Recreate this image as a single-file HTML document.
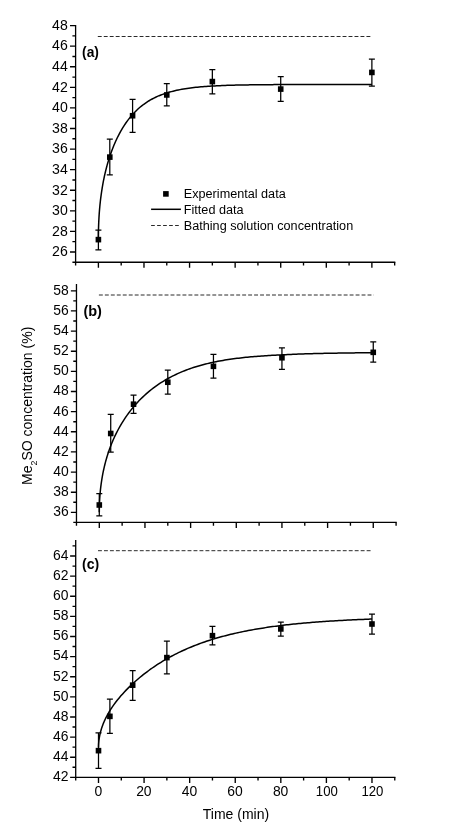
<!DOCTYPE html>
<html lang="en"><head><meta charset="utf-8"><title>Me2SO concentration vs time</title>
<style>html,body{margin:0;padding:0;background:#fff}body{width:453px;height:834px;overflow:hidden}svg{display:block;will-change:transform;opacity:0.999}</style>
</head><body>
<svg width="453" height="834" viewBox="0 0 453 834" font-family='"Liberation Sans", Arial, Helvetica, sans-serif' fill="#000">
<rect width="453" height="834" fill="#fff"/>
<g id="panel-a">
<path d="M75.61 25.60V262.27H394.67" fill="none" stroke="#000" stroke-width="1.3" stroke-linecap="square"/>
<path d="M75.61 251.98h-5.6M75.61 231.40h-5.6M75.61 210.82h-5.6M75.61 190.24h-5.6M75.61 169.66h-5.6M75.61 149.08h-5.6M75.61 128.50h-5.6M75.61 107.92h-5.6M75.61 87.34h-5.6M75.61 66.76h-5.6M75.61 46.18h-5.6M75.61 25.60h-5.6M75.61 262.27h-3.2M75.61 241.69h-3.2M75.61 221.11h-3.2M75.61 200.53h-3.2M75.61 179.95h-3.2M75.61 159.37h-3.2M75.61 138.79h-3.2M75.61 118.21h-3.2M75.61 97.63h-3.2M75.61 77.05h-3.2M75.61 56.47h-3.2M75.61 35.89h-3.2M98.40 262.27v5.6M143.98 262.27v5.6M189.56 262.27v5.6M235.14 262.27v5.6M280.72 262.27v5.6M326.30 262.27v5.6M371.88 262.27v5.6M75.61 262.27v3.3M121.19 262.27v3.3M166.77 262.27v3.3M212.35 262.27v3.3M257.93 262.27v3.3M303.51 262.27v3.3M349.09 262.27v3.3M394.67 262.27v3.3" fill="none" stroke="#000" stroke-width="1.35"/>
<g font-size="14.1" text-anchor="end">
<text x="67.75" y="256.28">26</text>
<text x="67.75" y="235.70">28</text>
<text x="67.75" y="215.12">30</text>
<text x="67.75" y="194.54">32</text>
<text x="67.75" y="173.96">34</text>
<text x="67.75" y="153.38">36</text>
<text x="67.75" y="132.80">38</text>
<text x="67.75" y="112.22">40</text>
<text x="67.75" y="91.64">42</text>
<text x="67.75" y="71.06">44</text>
<text x="67.75" y="50.48">46</text>
<text x="67.75" y="29.90">48</text>
</g>
<line x1="97.8" x2="372.38" y1="36.5" y2="36.5" stroke="#2a2a2a" stroke-width="1" stroke-dasharray="3.9 2.07"/>
<text x="82.1" y="57.0" font-size="13.8" font-weight="bold">(a)</text>
<path d="M98.40 237.93 L98.40 236.35 L98.42 234.63 L98.44 232.91 L98.46 231.20 L98.50 229.50 L98.54 227.80 L98.59 226.11 L98.65 224.43 L98.72 222.76 L98.79 221.10 L98.88 219.44 L98.97 217.79 L99.06 216.15 L99.17 214.52 L99.28 212.90 L99.41 211.28 L99.54 209.68 L99.67 208.08 L99.82 206.49 L99.97 204.90 L100.13 203.33 L100.30 201.76 L100.48 200.20 L100.66 198.65 L100.86 197.11 L101.06 195.58 L101.26 194.05 L101.48 192.54 L101.70 191.03 L101.94 189.53 L102.17 188.04 L102.42 186.56 L102.68 185.09 L102.94 183.62 L103.21 182.16 L103.49 180.72 L103.78 179.28 L104.07 177.85 L104.37 176.43 L104.69 175.02 L105.00 173.61 L105.33 172.22 L105.66 170.83 L106.00 169.46 L106.35 168.09 L106.71 166.73 L107.08 165.38 L107.45 164.04 L107.83 162.72 L108.22 161.39 L108.62 160.08 L109.02 158.78 L109.43 157.49 L109.85 156.21 L110.28 154.94 L110.72 153.67 L111.16 152.42 L111.61 151.18 L112.07 149.94 L113.82 145.53 L115.56 141.49 L117.30 137.76 L119.05 134.32 L120.79 131.12 L122.54 128.15 L124.28 125.38 L126.02 122.79 L127.77 120.38 L129.51 118.12 L131.25 116.00 L133.00 114.02 L134.74 112.17 L136.49 110.44 L138.23 108.81 L139.97 107.29 L141.72 105.86 L143.46 104.52 L145.20 103.27 L146.95 102.09 L148.69 100.99 L150.43 99.96 L152.18 98.99 L153.92 98.08 L155.67 97.23 L157.41 96.43 L159.15 95.68 L160.90 94.98 L162.64 94.33 L164.38 93.71 L166.13 93.13 L167.87 92.59 L169.61 92.08 L171.36 91.60 L173.10 91.16 L174.85 90.74 L176.59 90.35 L178.33 89.98 L180.08 89.63 L181.82 89.31 L183.56 89.01 L185.31 88.72 L187.05 88.46 L188.80 88.21 L190.54 87.97 L192.28 87.75 L194.03 87.55 L195.77 87.35 L197.51 87.17 L199.26 87.00 L201.00 86.85 L202.74 86.70 L204.49 86.56 L206.23 86.43 L207.98 86.30 L209.72 86.19 L211.46 86.08 L213.21 85.98 L214.95 85.88 L216.69 85.79 L218.44 85.71 L220.18 85.63 L221.92 85.56 L223.67 85.49 L225.41 85.43 L227.16 85.37 L228.90 85.31 L230.64 85.26 L232.39 85.21 L234.13 85.16 L235.87 85.12 L237.62 85.07 L239.36 85.04 L241.11 85.00 L242.85 84.97 L244.59 84.93 L246.34 84.90 L248.08 84.88 L249.82 84.85 L251.57 84.83 L253.31 84.80 L255.05 84.78 L256.80 84.76 L258.54 84.74 L260.29 84.72 L262.03 84.71 L263.77 84.69 L265.52 84.68 L267.26 84.66 L269.00 84.65 L270.75 84.64 L272.49 84.63 L274.23 84.62 L275.98 84.61 L277.72 84.60 L279.47 84.59 L281.21 84.58 L282.95 84.57 L284.70 84.57 L286.44 84.56 L288.18 84.55 L289.93 84.55 L291.67 84.54 L293.42 84.54 L295.16 84.53 L296.90 84.53 L298.65 84.52 L300.39 84.52 L302.13 84.52 L303.88 84.51 L305.62 84.51 L307.36 84.51 L309.11 84.50 L310.85 84.50 L312.60 84.50 L314.34 84.49 L316.08 84.49 L317.83 84.49 L319.57 84.49 L321.31 84.49 L323.06 84.48 L324.80 84.48 L326.54 84.48 L328.29 84.48 L330.03 84.48 L331.78 84.48 L333.52 84.48 L335.26 84.48 L337.01 84.47 L338.75 84.47 L340.49 84.47 L342.24 84.47 L343.98 84.47 L345.73 84.47 L347.47 84.47 L349.21 84.47 L350.96 84.47 L352.70 84.47 L354.44 84.47 L356.19 84.47 L357.93 84.47 L359.67 84.47 L361.42 84.47 L363.16 84.46 L364.91 84.46 L366.65 84.46 L368.39 84.46 L370.14 84.46 L371.88 84.46" fill="none" stroke="#000" stroke-width="1.5" stroke-linejoin="round"/>
<path d="M98.40 230.17V249.92M95.40 230.17h6.0M95.40 249.92h6.0M109.80 139.10V174.80M106.80 139.10h6.0M106.80 174.80h6.0M132.59 99.48V132.31M129.59 99.48h6.0M129.59 132.31h6.0M166.77 83.64V105.86M163.77 83.64h6.0M163.77 105.86h6.0M212.35 69.54V93.82M209.35 69.54h6.0M209.35 93.82h6.0M280.72 76.74V101.44M277.72 76.74h6.0M277.72 101.44h6.0M371.88 59.15V86.00M368.88 59.15h6.0M368.88 86.00h6.0" fill="none" stroke="#000" stroke-width="1.25"/>
<rect x="95.60" y="236.83" width="5.6" height="5.6"/>
<rect x="107.00" y="154.31" width="5.6" height="5.6"/>
<rect x="129.78" y="112.94" width="5.6" height="5.6"/>
<rect x="163.97" y="92.15" width="5.6" height="5.6"/>
<rect x="209.55" y="78.78" width="5.6" height="5.6"/>
<rect x="277.92" y="86.29" width="5.6" height="5.6"/>
<rect x="369.08" y="69.62" width="5.6" height="5.6"/>
</g>
<g id="panel-b">
<path d="M76.47 284.76V522.41H396.09" fill="none" stroke="#000" stroke-width="1.3" stroke-linecap="square"/>
<path d="M76.47 512.34h-5.6M76.47 492.20h-5.6M76.47 472.06h-5.6M76.47 451.92h-5.6M76.47 431.78h-5.6M76.47 411.64h-5.6M76.47 391.50h-5.6M76.47 371.36h-5.6M76.47 351.22h-5.6M76.47 331.08h-5.6M76.47 310.94h-5.6M76.47 290.80h-5.6M76.47 522.41h-3.2M76.47 502.27h-3.2M76.47 482.13h-3.2M76.47 461.99h-3.2M76.47 441.85h-3.2M76.47 421.71h-3.2M76.47 401.57h-3.2M76.47 381.43h-3.2M76.47 361.29h-3.2M76.47 341.15h-3.2M76.47 321.01h-3.2M76.47 300.87h-3.2M99.30 522.41v5.6M144.96 522.41v5.6M190.62 522.41v5.6M236.28 522.41v5.6M281.94 522.41v5.6M327.60 522.41v5.6M373.26 522.41v5.6M76.47 522.41v3.3M122.13 522.41v3.3M167.79 522.41v3.3M213.45 522.41v3.3M259.11 522.41v3.3M304.77 522.41v3.3M350.43 522.41v3.3M396.09 522.41v3.3" fill="none" stroke="#000" stroke-width="1.35"/>
<g font-size="13.9" text-anchor="end">
<text x="68.80" y="516.22">36</text>
<text x="68.80" y="496.08">38</text>
<text x="68.80" y="475.94">40</text>
<text x="68.80" y="455.80">42</text>
<text x="68.80" y="435.66">44</text>
<text x="68.80" y="415.52">46</text>
<text x="68.80" y="395.38">48</text>
<text x="68.80" y="375.24">50</text>
<text x="68.80" y="355.10">52</text>
<text x="68.80" y="334.96">54</text>
<text x="68.80" y="314.82">56</text>
<text x="68.80" y="294.68">58</text>
</g>
<line x1="98.9" x2="373.76" y1="295.0" y2="295.0" stroke="#2a2a2a" stroke-width="1" stroke-dasharray="3.9 2.07"/>
<text x="83.4" y="316.1" font-size="14.5" font-weight="bold">(b)</text>
<path d="M99.30 512.28 L99.30 511.08 L99.32 509.72 L99.34 508.37 L99.36 507.03 L99.40 505.68 L99.44 504.35 L99.49 503.01 L99.55 501.69 L99.62 500.36 L99.69 499.04 L99.78 497.73 L99.87 496.42 L99.97 495.11 L100.07 493.81 L100.19 492.52 L100.31 491.23 L100.44 489.94 L100.57 488.66 L100.72 487.38 L100.87 486.11 L101.04 484.84 L101.20 483.58 L101.38 482.32 L101.57 481.07 L101.76 479.82 L101.96 478.57 L102.17 477.34 L102.39 476.10 L102.61 474.87 L102.84 473.65 L103.08 472.43 L103.33 471.22 L103.59 470.01 L103.85 468.80 L104.12 467.60 L104.40 466.41 L104.69 465.22 L104.98 464.03 L105.29 462.85 L105.60 461.68 L105.91 460.51 L106.24 459.34 L106.58 458.19 L106.92 457.03 L107.27 455.88 L107.63 454.74 L107.99 453.60 L108.37 452.46 L108.75 451.34 L109.14 450.21 L109.54 449.09 L109.94 447.98 L110.35 446.87 L110.77 445.77 L111.20 444.67 L111.64 443.58 L112.09 442.49 L112.54 441.41 L113.00 440.33 L114.74 436.45 L116.49 432.85 L118.24 429.49 L119.98 426.34 L121.73 423.37 L123.48 420.56 L125.23 417.90 L126.97 415.37 L128.72 412.97 L130.47 410.67 L132.21 408.48 L133.96 406.38 L135.71 404.37 L137.45 402.44 L139.20 400.59 L140.95 398.82 L142.69 397.11 L144.44 395.47 L146.19 393.90 L147.93 392.38 L149.68 390.92 L151.43 389.52 L153.17 388.16 L154.92 386.86 L156.67 385.61 L158.41 384.40 L160.16 383.23 L161.91 382.11 L163.65 381.03 L165.40 379.98 L167.15 378.98 L168.89 378.01 L170.64 377.07 L172.39 376.17 L174.13 375.30 L175.88 374.47 L177.63 373.66 L179.37 372.88 L181.12 372.13 L182.87 371.41 L184.61 370.71 L186.36 370.04 L188.11 369.39 L189.85 368.76 L191.60 368.16 L193.35 367.57 L195.09 367.01 L196.84 366.47 L198.59 365.95 L200.33 365.45 L202.08 364.96 L203.83 364.49 L205.57 364.04 L207.32 363.61 L209.07 363.19 L210.81 362.78 L212.56 362.39 L214.31 362.02 L216.05 361.67 L217.80 361.33 L219.55 361.01 L221.29 360.70 L223.04 360.39 L224.79 360.10 L226.54 359.83 L228.28 359.56 L230.03 359.30 L231.78 359.05 L233.52 358.81 L235.27 358.58 L237.02 358.36 L238.76 358.14 L240.51 357.94 L242.26 357.74 L244.00 357.55 L245.75 357.37 L247.50 357.19 L249.24 357.02 L250.99 356.86 L252.74 356.70 L254.48 356.55 L256.23 356.40 L257.98 356.27 L259.72 356.13 L261.47 356.00 L263.22 355.88 L264.96 355.76 L266.71 355.65 L268.46 355.54 L270.20 355.43 L271.95 355.33 L273.70 355.23 L275.44 355.14 L277.19 355.05 L278.94 354.97 L280.68 354.89 L282.43 354.80 L284.18 354.71 L285.92 354.63 L287.67 354.55 L289.42 354.47 L291.16 354.39 L292.91 354.32 L294.66 354.25 L296.40 354.18 L298.15 354.11 L299.90 354.05 L301.64 353.99 L303.39 353.93 L305.14 353.87 L306.88 353.82 L308.63 353.76 L310.38 353.71 L312.12 353.66 L313.87 353.62 L315.62 353.57 L317.36 353.53 L319.11 353.48 L320.86 353.44 L322.60 353.40 L324.35 353.36 L326.10 353.33 L327.85 353.29 L329.59 353.26 L331.34 353.22 L333.09 353.19 L334.83 353.16 L336.58 353.13 L338.33 353.10 L340.07 353.08 L341.82 353.05 L343.57 353.02 L345.31 353.00 L347.06 352.97 L348.81 352.95 L350.55 352.93 L352.30 352.91 L354.05 352.89 L355.79 352.87 L357.54 352.85 L359.29 352.83 L361.03 352.81 L362.78 352.79 L364.53 352.78 L366.27 352.76 L368.02 352.75 L369.77 352.73 L371.51 352.72 L373.26 352.70" fill="none" stroke="#000" stroke-width="1.5" stroke-linejoin="round"/>
<path d="M99.30 493.71V515.86M96.30 493.71h6.0M96.30 515.86h6.0M110.72 414.26V452.22M107.72 414.26h6.0M107.72 452.22h6.0M133.55 395.13V413.35M130.55 395.13h6.0M130.55 413.35h6.0M167.79 370.15V394.22M164.79 370.15h6.0M164.79 394.22h6.0M213.45 354.44V378.01M210.45 354.44h6.0M210.45 378.01h6.0M281.94 347.90V369.35M278.94 347.90h6.0M278.94 369.35h6.0M373.26 341.85V362.20M370.26 341.85h6.0M370.26 362.20h6.0" fill="none" stroke="#000" stroke-width="1.25"/>
<rect x="96.50" y="502.19" width="5.6" height="5.6"/>
<rect x="107.92" y="430.69" width="5.6" height="5.6"/>
<rect x="130.75" y="401.39" width="5.6" height="5.6"/>
<rect x="164.99" y="379.44" width="5.6" height="5.6"/>
<rect x="210.65" y="363.52" width="5.6" height="5.6"/>
<rect x="279.14" y="354.97" width="5.6" height="5.6"/>
<rect x="370.46" y="349.53" width="5.6" height="5.6"/>
</g>
<g id="panel-c">
<path d="M75.71 540.61V777.32H394.77" fill="none" stroke="#000" stroke-width="1.3" stroke-linecap="square"/>
<path d="M75.71 777.32h-5.6M75.71 757.20h-5.6M75.71 737.08h-5.6M75.71 716.96h-5.6M75.71 696.84h-5.6M75.71 676.72h-5.6M75.71 656.60h-5.6M75.71 636.48h-5.6M75.71 616.36h-5.6M75.71 596.24h-5.6M75.71 576.12h-5.6M75.71 556.00h-5.6M75.71 767.26h-3.2M75.71 747.14h-3.2M75.71 727.02h-3.2M75.71 706.90h-3.2M75.71 686.78h-3.2M75.71 666.66h-3.2M75.71 646.54h-3.2M75.71 626.42h-3.2M75.71 606.30h-3.2M75.71 586.18h-3.2M75.71 566.06h-3.2M75.71 545.94h-3.2M98.50 777.32v5.6M144.08 777.32v5.6M189.66 777.32v5.6M235.24 777.32v5.6M280.82 777.32v5.6M326.40 777.32v5.6M371.98 777.32v5.6M75.71 777.32v3.3M121.29 777.32v3.3M166.87 777.32v3.3M212.45 777.32v3.3M258.03 777.32v3.3M303.61 777.32v3.3M349.19 777.32v3.3M394.77 777.32v3.3" fill="none" stroke="#000" stroke-width="1.35"/>
<g font-size="13.9" text-anchor="end">
<text x="68.45" y="781.20">42</text>
<text x="68.45" y="761.08">44</text>
<text x="68.45" y="740.96">46</text>
<text x="68.45" y="720.84">48</text>
<text x="68.45" y="700.72">50</text>
<text x="68.45" y="680.60">52</text>
<text x="68.45" y="660.48">54</text>
<text x="68.45" y="640.36">56</text>
<text x="68.45" y="620.24">58</text>
<text x="68.45" y="600.12">60</text>
<text x="68.45" y="580.00">62</text>
<text x="68.45" y="559.88">64</text>
</g>
<line x1="98.0" x2="372.48" y1="550.7" y2="550.7" stroke="#2a2a2a" stroke-width="1" stroke-dasharray="3.9 2.07"/>
<text x="82.1" y="569.45" font-size="14.0" font-weight="bold">(c)</text>
<path d="M98.50 747.48 L98.50 746.86 L98.52 746.17 L98.54 745.49 L98.56 744.80 L98.60 744.12 L98.64 743.43 L98.69 742.75 L98.75 742.07 L98.82 741.38 L98.89 740.70 L98.98 740.01 L99.07 739.33 L99.16 738.64 L99.27 737.96 L99.38 737.27 L99.51 736.59 L99.64 735.90 L99.77 735.22 L99.92 734.53 L100.07 733.85 L100.23 733.17 L100.40 732.48 L100.58 731.80 L100.76 731.11 L100.96 730.43 L101.16 729.74 L101.36 729.06 L101.58 728.37 L101.80 727.69 L102.04 727.00 L102.27 726.32 L102.52 725.64 L102.78 724.95 L103.04 724.27 L103.31 723.58 L103.59 722.90 L103.88 722.21 L104.17 721.53 L104.47 720.84 L104.79 720.16 L105.10 719.47 L105.43 718.79 L105.76 718.10 L106.10 717.42 L106.45 716.74 L106.81 716.05 L107.18 715.37 L107.55 714.68 L107.93 714.00 L108.32 713.31 L108.72 712.63 L109.12 711.94 L109.53 711.26 L109.95 710.57 L110.38 709.89 L110.82 709.20 L111.26 708.52 L111.71 707.84 L112.17 707.15 L113.92 704.65 L115.66 702.29 L117.40 700.05 L119.15 697.91 L120.89 695.86 L122.64 693.88 L124.38 691.98 L126.12 690.14 L127.87 688.36 L129.61 686.64 L131.35 684.97 L133.10 683.34 L134.84 681.76 L136.59 680.22 L138.33 678.72 L140.07 677.26 L141.82 675.84 L143.56 674.45 L145.30 673.10 L147.05 671.78 L148.79 670.49 L150.53 669.23 L152.28 668.00 L154.02 666.80 L155.77 665.63 L157.51 664.49 L159.25 663.37 L161.00 662.28 L162.74 661.22 L164.48 660.18 L166.23 659.17 L167.97 658.17 L169.71 657.21 L171.46 656.26 L173.20 655.33 L174.95 654.43 L176.69 653.55 L178.43 652.69 L180.18 651.85 L181.92 651.03 L183.66 650.22 L185.41 649.44 L187.15 648.67 L188.90 647.92 L190.64 647.19 L192.38 646.48 L194.13 645.78 L195.87 645.10 L197.61 644.44 L199.36 643.79 L201.10 643.15 L202.84 642.53 L204.59 641.92 L206.33 641.33 L208.08 640.75 L209.82 640.19 L211.56 639.64 L213.31 639.10 L215.05 638.57 L216.79 638.06 L218.54 637.55 L220.28 637.06 L222.02 636.58 L223.77 636.12 L225.51 635.66 L227.26 635.21 L229.00 634.78 L230.74 634.35 L232.49 633.93 L234.23 633.53 L235.97 633.13 L237.72 632.74 L239.46 632.36 L241.21 631.99 L242.95 631.63 L244.69 631.27 L246.44 630.93 L248.18 630.59 L249.92 630.26 L251.67 629.94 L253.41 629.63 L255.15 629.32 L256.90 629.02 L258.64 628.73 L260.39 628.44 L262.13 628.16 L263.87 627.89 L265.62 627.62 L267.36 627.36 L269.10 627.10 L270.85 626.86 L272.59 626.61 L274.33 626.37 L276.08 626.14 L277.82 625.92 L279.57 625.70 L281.31 625.48 L283.05 625.27 L284.80 625.06 L286.54 624.86 L288.28 624.66 L290.03 624.47 L291.77 624.28 L293.52 624.10 L295.26 623.92 L297.00 623.75 L298.75 623.57 L300.49 623.41 L302.23 623.24 L303.98 623.08 L305.72 622.93 L307.46 622.78 L309.21 622.63 L310.95 622.48 L312.70 622.34 L314.44 622.20 L316.18 622.07 L317.93 621.94 L319.67 621.81 L321.41 621.68 L323.16 621.56 L324.90 621.44 L326.64 621.32 L328.39 621.20 L330.13 621.09 L331.88 620.98 L333.62 620.88 L335.36 620.77 L337.11 620.67 L338.85 620.57 L340.59 620.47 L342.34 620.38 L344.08 620.28 L345.83 620.19 L347.57 620.10 L349.31 620.02 L351.06 619.93 L352.80 619.85 L354.54 619.77 L356.29 619.69 L358.03 619.61 L359.77 619.54 L361.52 619.46 L363.26 619.39 L365.01 619.32 L366.75 619.25 L368.49 619.19 L370.24 619.12 L371.98 619.06" fill="none" stroke="#000" stroke-width="1.5" stroke-linejoin="round"/>
<path d="M98.50 732.96V768.47M95.50 732.96h6.0M95.50 768.47h6.0M109.89 699.15V733.36M106.89 699.15h6.0M106.89 733.36h6.0M132.69 670.58V700.26M129.69 670.58h6.0M129.69 700.26h6.0M166.87 641.11V673.90M163.87 641.11h6.0M163.87 673.90h6.0M212.45 626.42V644.93M209.45 626.42h6.0M209.45 644.93h6.0M280.82 622.09V636.18M277.82 622.09h6.0M277.82 636.18h6.0M371.98 614.05V634.17M368.98 614.05h6.0M368.98 634.17h6.0" fill="none" stroke="#000" stroke-width="1.25"/>
<rect x="95.70" y="747.86" width="5.6" height="5.6"/>
<rect x="107.09" y="713.56" width="5.6" height="5.6"/>
<rect x="129.88" y="682.37" width="5.6" height="5.6"/>
<rect x="164.07" y="654.81" width="5.6" height="5.6"/>
<rect x="209.65" y="632.88" width="5.6" height="5.6"/>
<rect x="278.02" y="626.13" width="5.6" height="5.6"/>
<rect x="369.18" y="621.21" width="5.6" height="5.6"/>
</g>
<g font-size="13.9" text-anchor="middle">
<text x="98.30" y="795.6">0</text>
<text x="143.88" y="795.6">20</text>
<text x="189.46" y="795.6">40</text>
<text x="235.04" y="795.6">60</text>
<text x="280.62" y="795.6">80</text>
<text x="326.80" y="795.6" textLength="22.0" lengthAdjust="spacingAndGlyphs">100</text>
<text x="372.38" y="795.6" textLength="22.0" lengthAdjust="spacingAndGlyphs">120</text>
</g>
<text x="236" y="819.3" font-size="14.0" text-anchor="middle">Time (min)</text>
<text transform="translate(32.0 405.8) rotate(-90)" font-size="14" text-anchor="middle">Me<tspan font-size="8.8" dy="5.4">2</tspan><tspan dy="-5.4">SO concentration (%)</tspan></text>
<g id="legend">
<rect x="163.10" y="191.10" width="5.6" height="5.6"/>
<line x1="151.1" x2="180.9" y1="209.3" y2="209.3" stroke="#000" stroke-width="1.5"/>
<line x1="151.1" x2="178.8" y1="225.5" y2="225.5" stroke="#2a2a2a" stroke-width="1" stroke-dasharray="3.7 2.3"/>
<g font-size="12.65"><text x="183.8" y="198.1">Experimental data</text><text x="183.8" y="213.7">Fitted data</text><text x="183.8" y="229.6">Bathing solution concentration</text></g>
</g>
</svg>
</body></html>
